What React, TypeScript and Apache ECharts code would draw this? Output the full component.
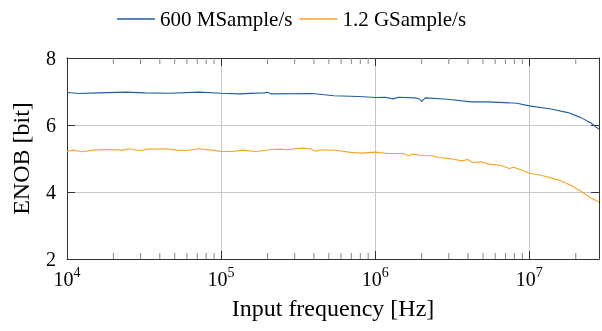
import React, { useEffect, useRef } from "react";
import * as echarts from "echarts";

const X_MIN = 1e4;
const X_MAX = 2.83e7;
const Y_MIN = 2;
const Y_MAX = 8;
const Y_INTERVAL = 2;

const SERIES_NAMES = ["600 MSample/s", "1.2 GSample/s"];

const FREQ_600 = [
  1e4, 1.2e4, 1.6e4, 2.4e4, 3.2e4, 4.6e4, 7.2e4, 1e5, 1.3e5, 1.9e5, 2.0e5, 2.1e5,
  3.9e5, 5.4e5, 7.8e5, 1e6, 1.16e6, 1.31e6, 1.41e6, 1.81e6, 1.95e6, 2.0e6, 2.11e6,
  2.95e6, 4.2e6, 5.4e6, 8.3e6, 1e7, 1.38e7, 1.78e7, 2.16e7, 2.51e7, 2.83e7,
];
const ENOB_600 = [
  6.97, 6.94, 6.96, 6.98, 6.96, 6.95, 6.98, 6.95, 6.93, 6.96, 6.98, 6.93,
  6.94, 6.875, 6.85, 6.82, 6.83, 6.78, 6.83, 6.81, 6.77, 6.7, 6.81,
  6.77, 6.69, 6.69, 6.65, 6.57, 6.48, 6.37, 6.22, 6.06, 5.87,
];

const FREQ_1G2 = [
  1e4, 1.1e4, 1.25e4, 1.48e4, 1.8e4, 2.3e4, 2.5e4, 3.0e4, 3.3e4, 4.4e4, 5.1e4, 5.9e4,
  7.2e4, 8.8e4, 1e5, 1.19e5, 1.38e5, 1.68e5, 2.15e5, 2.4e5, 2.63e5, 3.36e5, 3.8e5,
  4.1e5, 4.5e5, 5.75e5, 6.7e5, 8.1e5, 1e6, 1.22e6, 1.41e6, 1.51e6, 1.64e6, 1.77e6,
  2.0e6, 2.32e6, 2.6e6, 3.13e6, 3.63e6, 3.98e6, 4.3e6, 4.88e6, 5.37e6, 6.56e6,
  7.4e6, 7.94e6, 9.3e6, 1e7, 1.19e7, 1.52e7, 1.86e7, 2.16e7, 2.51e7, 2.83e7,
];
const ENOB_1G2 = [
  5.21, 5.25, 5.2, 5.25, 5.27, 5.25, 5.29, 5.23, 5.28, 5.29, 5.25, 5.24,
  5.29, 5.25, 5.21, 5.21, 5.25, 5.21, 5.27, 5.28, 5.26, 5.31, 5.29,
  5.22, 5.26, 5.24, 5.19, 5.16, 5.19, 5.15, 5.15, 5.15, 5.09, 5.13,
  5.09, 5.08, 5.03, 4.99, 4.93, 4.97, 4.88, 4.9, 4.84, 4.79,
  4.7, 4.74, 4.62, 4.56, 4.5, 4.37, 4.2, 4.02, 3.82, 3.7,
];

const MINOR_TICKS = [
  2e4, 3e4, 4e4, 5e4, 6e4, 7e4, 8e4, 9e4,
  2e5, 3e5, 4e5, 5e5, 6e5, 7e5, 8e5, 9e5,
  2e6, 3e6, 4e6, 5e6, 6e6, 7e6, 8e6, 9e6,
  2e7,
];

const COLORS = ["#1f5fa0", "#f7a428"];
const FONT = "'Liberation Serif', 'Times New Roman', serif";
const FRAME = "#333";
const GRID = "#c8c8c8";

function zip(xs: number[], ys: number[]) {
  return xs.map((x, i) => [x, ys[i]]);
}

export default function App() {
  const ref = useRef<HTMLDivElement>(null);
  useEffect(() => {
    document.body.style.margin = "0";
    if (!ref.current) return;
    const chart = echarts.init(ref.current, undefined, { renderer: "svg" });

    const xLabelFmt = (v: number) => {
      const e = Math.log10(v);
      const r = Math.round(e);
      if (Math.abs(e - r) > 1e-6) return "";
      return `{b|10}{s|${r}}`;
    };

    const xCommon = {
      type: "log" as const,
      logBase: 10,
      min: X_MIN,
      max: X_MAX,
      axisLine: { show: true, onZero: false, lineStyle: { color: FRAME, width: 1 } },
      axisTick: { show: true, inside: true, length: 8, lineStyle: { color: FRAME } },
    };

    const yCommon = {
      type: "value" as const,
      min: Y_MIN,
      max: Y_MAX,
      interval: Y_INTERVAL,
      axisLine: { show: true, lineStyle: { color: FRAME, width: 1 } },
      axisTick: { show: true, inside: true, length: 8, lineStyle: { color: FRAME } },
    };

    chart.setOption({
      animation: false,
      textStyle: { fontFamily: FONT },
      grid: { left: 67, top: 58, right: 1, bottom: 72 },
      legend: {
        data: SERIES_NAMES,
        left: 112,
        top: 1,
        icon: "rect",
        itemWidth: 38,
        itemHeight: 1.5,
        itemGap: 7,
        textStyle: { fontFamily: FONT, fontSize: 21, color: "#000", lineHeight: 26 },
      },
      xAxis: [
        {
          ...xCommon,
          position: "bottom",
          name: "Input frequency [Hz]",
          nameLocation: "middle",
          nameGap: 37,
          nameTextStyle: { fontFamily: FONT, fontSize: 24, color: "#000" },
          splitLine: { show: true, lineStyle: { color: GRID, width: 1 } },
          axisLabel: {
            margin: 6,
            formatter: xLabelFmt,
            rich: {
              b: { fontFamily: FONT, fontSize: 20, lineHeight: 28, color: "#000" },
              s: { fontFamily: FONT, fontSize: 14, lineHeight: 14, verticalAlign: "top", color: "#000" },
            },
          },
        },
        {
          ...xCommon,
          position: "top",
          splitLine: { show: false },
          axisLabel: { show: false },
        },
      ],
      yAxis: [
        {
          ...yCommon,
          position: "left",
          name: "ENOB [bit]",
          nameLocation: "middle",
          nameGap: 34,
          nameTextStyle: { fontFamily: FONT, fontSize: 24, color: "#000" },
          splitLine: { show: true, lineStyle: { color: GRID, width: 1 } },
          axisLabel: { fontFamily: FONT, fontSize: 20, color: "#000", margin: 11 },
        },
        {
          ...yCommon,
          position: "right",
          splitLine: { show: false },
          axisLabel: { show: false },
        },
      ],
      series: [
        {
          name: SERIES_NAMES[0],
          type: "line",
          data: zip(FREQ_600, ENOB_600),
          symbol: "none",
          color: COLORS[0],
          lineStyle: { color: COLORS[0], width: 1.1 },
          z: 3,
        },
        {
          name: SERIES_NAMES[1],
          type: "line",
          data: zip(FREQ_1G2, ENOB_1G2),
          symbol: "none",
          color: COLORS[1],
          lineStyle: { color: COLORS[1], width: 1.1 },
          z: 3,
        },
        {
          name: "minor",
          type: "custom",
          silent: true,
          data: MINOR_TICKS.map((f) => [f, Y_MIN]),
          z: 1,
          renderItem: (params: any, api: any) => {
            const p = api.coord([api.value(0), Y_MIN]);
            const cs = params.coordSys;
            const top = cs.y;
            const bottom = cs.y + cs.height;
            const style = { stroke: "#888", lineWidth: 1 };
            return {
              type: "group",
              children: [
                { type: "line", shape: { x1: p[0], y1: bottom, x2: p[0], y2: bottom - 6 }, style },
                { type: "line", shape: { x1: p[0], y1: top, x2: p[0], y2: top + 6 }, style },
              ],
            };
          },
        },
      ],
    });
    return () => chart.dispose();
  }, []);
  return (
    <div
      ref={ref}
      style={{ position: "fixed", left: 0, top: 0, width: 602, height: 331 }}
    />
  );
}
